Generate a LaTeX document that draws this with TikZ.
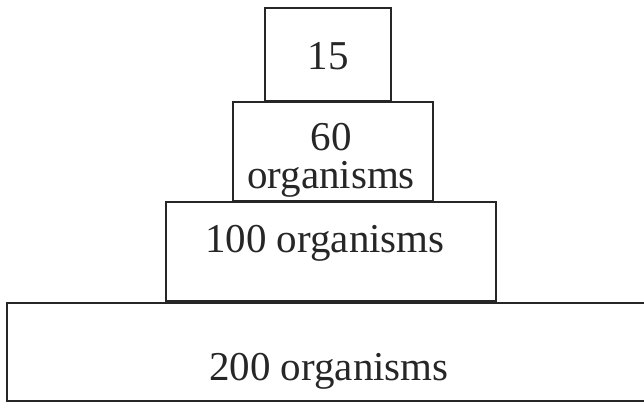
\documentclass[tikz,border=0pt]{standalone}
\usepackage{fontspec}
\setmainfont{Liberation Serif}
\begin{document}
\begin{tikzpicture}[x=1pt,y=-1pt,
  tier/.style={draw=black!85,line width=1.5pt},
  lbl/.style={anchor=base,inner sep=0pt,font=\fontsize{41}{38}\selectfont,text=black!85}]
\useasboundingbox (0,0) rectangle (644,404);
\draw[tier] (265,8) rectangle (391,101);
\draw[tier] (233,102) rectangle (433,201);
\draw[tier] (166,202) rectangle (496,301);
\draw[tier] (7,303) rectangle (660,401);
\node[lbl] (t1) at (328,70) {15};
\node[lbl] (t2a) at (331,150) {60};
\node[lbl] (t2b) at (331,188) {organisms};
\node[lbl] (t3) at (325,252) {100 organisms};
\node[lbl] (t4) at (329,380) {200 organisms};
\end{tikzpicture}
\end{document}
